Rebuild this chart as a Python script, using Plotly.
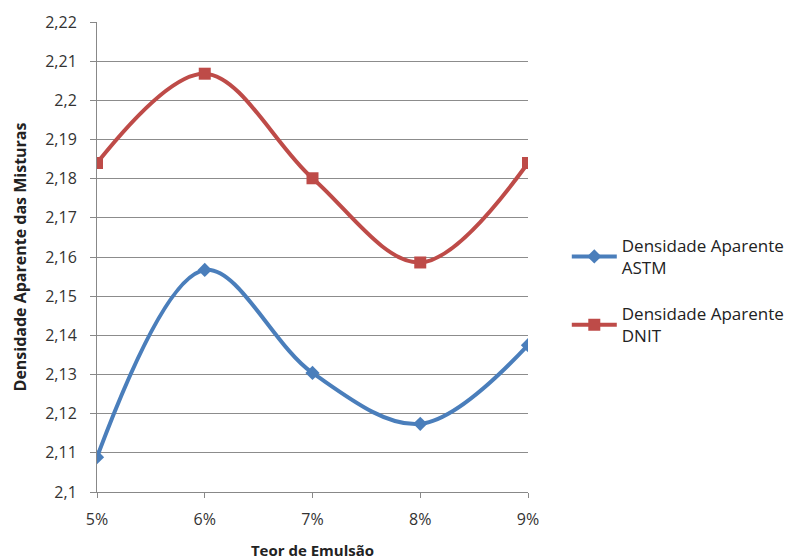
import plotly.graph_objects as go

categories = ["5%", "6%", "7%", "8%", "9%"]
astm = [2.1089, 2.1567, 2.1304, 2.1174, 2.1375]
dnit = [2.1840, 2.2068, 2.1801, 2.1586, 2.1840]
y_ticks = [2.10, 2.11, 2.12, 2.13, 2.14, 2.15, 2.16, 2.17, 2.18, 2.19, 2.20, 2.21, 2.22]
y_tick_labels = ["2,1", "2,11", "2,12", "2,13", "2,14", "2,15", "2,16", "2,17",
                 "2,18", "2,19", "2,2", "2,21", "2,22"]

FONT = "Open Sans, Liberation Sans, sans-serif"

fig = go.Figure()
fig.add_trace(go.Scatter(
    x=categories, y=astm, mode="lines+markers",
    name="Densidade Aparente<br>ASTM", legendgroup="a",
    line=dict(color="#4A7EBB", width=4, shape="spline", smoothing=1.0),
    marker=dict(symbol="diamond", size=11, color="#4A7EBB"),
))
fig.add_trace(go.Scatter(
    x=categories, y=dnit, mode="lines+markers",
    name="Densidade Aparente<br>DNIT", legendgroup="b",
    line=dict(color="#BE4B48", width=4, shape="spline", smoothing=1.0),
    marker=dict(symbol="square", size=12, color="#BE4B48"),
))

fig.update_layout(
    width=805, height=560,
    margin=dict(l=97, r=277, t=22, b=68),
    paper_bgcolor="white", plot_bgcolor="white",
    font=dict(family=FONT, size=16, color="#333333"),
    legend=dict(x=1.09, y=0.428, xanchor="left", yanchor="middle",
                font=dict(family=FONT, size=17, color="#222222"),
                tracegroupgap=21, itemwidth=45),
    showlegend=True,
)
fig.update_xaxes(
    type="category", range=[0, 4], automargin=False,
    showgrid=False, showline=True, linecolor="#888888", linewidth=1,
    ticks="outside", ticklen=5, tickcolor="#888888",
    ticklabelstandoff=8,
    tickfont=dict(family=FONT, size=16, color="#333333"),
    title=dict(text="<b>Teor de Emulsão</b>", font=dict(family=FONT, size=15, color="#222222"), standoff=18),
)
fig.update_yaxes(
    range=[2.10, 2.22], automargin=False,
    tickvals=y_ticks, ticktext=y_tick_labels,
    showgrid=True, gridcolor="#8C8C8C", gridwidth=1,
    showline=True, linecolor="#888888", linewidth=1,
    ticks="outside", ticklen=6, tickcolor="#888888",
    ticklabelstandoff=10,
    tickfont=dict(family=FONT, size=16, color="#333333"),
    zeroline=False,
    title=dict(text="<b>Densidade Aparente das Misturas</b>", font=dict(family=FONT, size=16, color="#222222"), standoff=14),
)

fig.write_html("out.html")
